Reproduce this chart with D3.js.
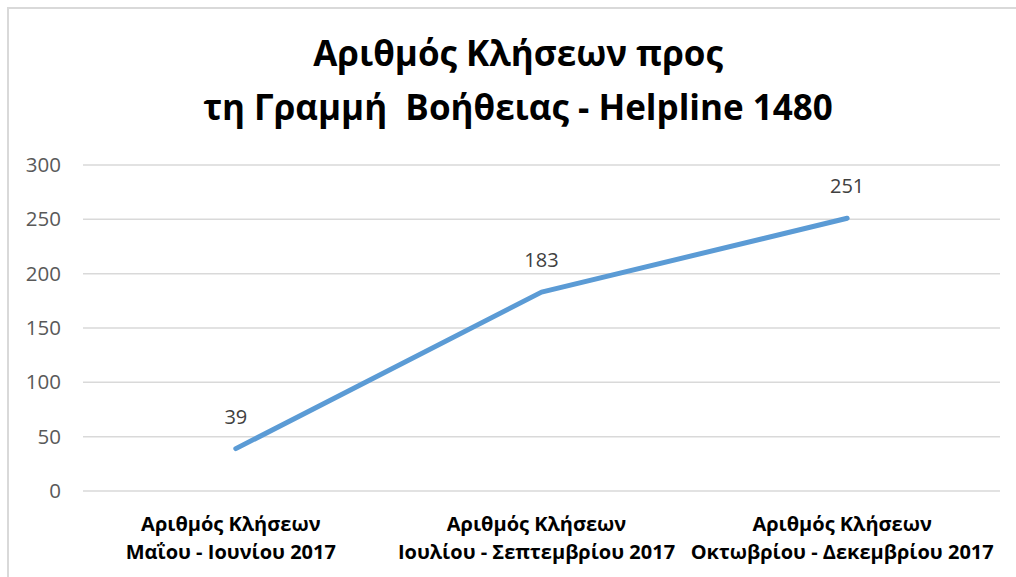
<!DOCTYPE html>
<html>
<head>
<meta charset="utf-8">
<script src="https://cdn.jsdelivr.net/npm/d3@7"></script>
<style>
  body { margin: 0; background: #fff; }
  text { font-family: "Open Sans", sans-serif; }
</style>
</head>
<body>
<div id="chart"></div>
<script>
const titleLines = ["Αριθμός Κλήσεων προς", "τη Γραμμή  Βοήθειας - Helpline 1480"]
const categories = [
    ["Αριθμός Κλήσεων", "Μαΐου - Ιουνίου 2017"],
    ["Αριθμός Κλήσεων", "Ιουλίου - Σεπτεμβρίου 2017"],
    ["Αριθμός Κλήσεων", "Οκτωβρίου - Δεκεμβρίου 2017"]
]
const calls = [39, 183, 251]
const yTicks = [0, 50, 100, 150, 200, 250, 300]

function drawLineChart(container, width, height) {
    d3.select(container).selectAll("*").remove()

    const svg = d3.select(container)
        .append("svg")
        .attr("width", width)
        .attr("height", height)

    // outer chart border
    svg.append("rect")
        .attr("x", 8).attr("y", 8)
        .attr("width", width + 20).attr("height", height + 20)
        .attr("fill", "none")
        .attr("stroke", "#d9d9d9")
        .attr("stroke-width", 2)

    const x = d3.scaleBand()
        .domain(d3.range(categories.length))
        .range([83, 1000])

    const y = d3.scaleLinear()
        .domain([0, 300])
        .range([491, 165])

    const grid = svg.append("g")
    grid.selectAll("line")
        .data(yTicks)
        .enter()
        .append("line")
        .attr("x1", 83).attr("x2", 1000)
        .attr("y1", d => y(d)).attr("y2", d => y(d))
        .attr("stroke", "#d9d9d9")
        .attr("stroke-width", 1.5)

    const yAxis = svg.append("g")
        .attr("transform", "translate(61 0)")
        .call(d3.axisLeft(y).tickValues(yTicks).tickSize(0).tickPadding(0))
    yAxis.select(".domain").remove()
    yAxis.selectAll("text")
        .attr("fill", "#595959")
        .style("font-size", "20.5px")
        .style("font-family", "Open Sans, sans-serif")

    const line = d3.line()
        .x((d, i) => x(i) + x.bandwidth() / 2)
        .y(d => y(d))

    svg.append("path")
        .datum(calls)
        .attr("d", line)
        .attr("fill", "none")
        .attr("stroke", "#5b9bd5")
        .attr("stroke-width", 5)
        .attr("stroke-linecap", "round")
        .attr("stroke-linejoin", "round")

    svg.selectAll(".val")
        .data(calls)
        .enter()
        .append("text")
        .attr("class", "val")
        .attr("x", (d, i) => x(i) + x.bandwidth() / 2)
        .attr("y", d => y(d) - 25)
        .attr("text-anchor", "middle")
        .attr("fill", "#404040")
        .style("font-size", "20px")
        .text(d => d)

    const cat = svg.selectAll(".cat")
        .data(categories)
        .enter()
        .append("text")
        .attr("class", "cat")
        .attr("text-anchor", "middle")
        .attr("fill", "#000")
        .style("font-size", "20px")
        .style("font-weight", "bold")
    cat.selectAll("tspan")
        .data((d, i) => d.map(t => ({ t: t, i: i })))
        .enter()
        .append("tspan")
        .attr("x", d => x(d.i) + x.bandwidth() / 2 - 5)
        .attr("y", (d, j) => 531 + j * 28)
        .text(d => d.t)

    svg.selectAll(".title")
        .data(titleLines)
        .enter()
        .append("text")
        .attr("class", "title")
        .attr("x", 518)
        .attr("y", (d, i) => 66 + i * 54)
        .attr("text-anchor", "middle")
        .attr("fill", "#000")
        .style("font-size", "35px")
        .style("font-weight", "bold")
        .style("white-space", "pre")
        .text(d => d)

    return svg.node()
}

drawLineChart("#chart", 1016, 577)
</script>
</body>
</html>
